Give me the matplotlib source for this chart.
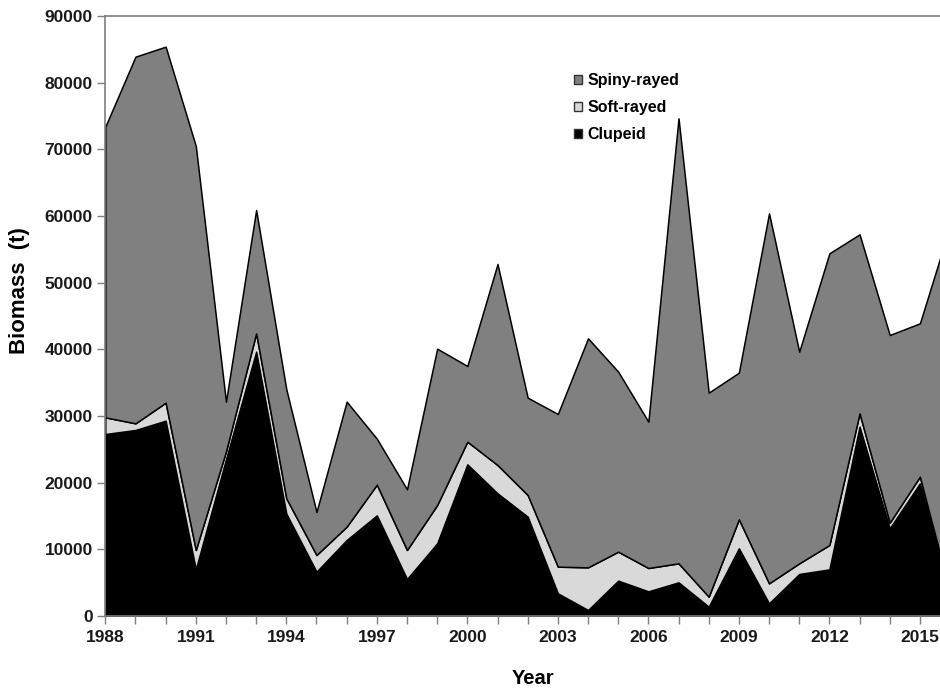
import numpy as np
import matplotlib
matplotlib.use("Agg")
import matplotlib.pyplot as plt
from matplotlib.patches import Patch
from matplotlib.ticker import MultipleLocator

plt.rcParams["font.family"] = ["Liberation Sans", "DejaVu Sans"]
plt.rcParams["font.weight"] = "bold"

years = list(range(1988, 2017))

clupeid = [27300, 27900, 29300, 7000, 23500, 39650, 15350, 6650, 11400, 15100,
           5550, 10900, 22750, 18400, 14900, 3400, 900, 5300, 3700, 5050,
           1400, 10150, 1900, 6300, 7000, 28400, 13150, 19900, 3000]

soft_rayed = [2500, 1000, 2700, 2900, 1200, 2750, 2300, 2500, 2000, 4600,
              4350, 5750, 3400, 4250, 3250, 4000, 6400, 4350, 3500, 2850,
              1500, 4350, 3000, 1600, 3650, 2000, 850, 1000, 600]

spiny_rayed = [43600, 55000, 53400, 60600, 7450, 18500, 16350, 6450, 18750, 6900,
               9100, 23450, 11350, 30150, 14600, 22900, 34350, 27000, 21950, 66750,
               30600, 22000, 55500, 31750, 43750, 26850, 28150, 23000, 54900]

year_ticks = years[::3]

labels = ["Clupeid", "Soft-rayed", "Spiny-rayed"]
colors = ["#000000", "#d9d9d9", "#808080"]

fig = plt.figure(figsize=(9.4, 6.9), dpi=100)
ax = fig.add_axes([105.3 / 940, 74 / 690, (940 - 105.3) / 940, 600 / 690])

ax.stackplot(years, clupeid, soft_rayed, spiny_rayed,
             colors=colors, edgecolor="black", linewidth=1.1)

ax.set_xlim(1988, 1988 + (940 - 105.3) / 30.17)
ax.set_ylim(0, 90000)

ax.set_xticks(year_ticks)
ax.xaxis.set_minor_locator(MultipleLocator(1))
ax.yaxis.set_major_locator(MultipleLocator(10000))

for side in ["left", "top", "bottom"]:
    ax.spines[side].set_color("#7f7f7f")
    ax.spines[side].set_linewidth(1.2)
ax.spines["right"].set_visible(False)

ax.tick_params(axis="both", which="both", direction="out", color="#7f7f7f",
               width=1, labelsize=12.5, labelcolor="#1a1a1a")
ax.tick_params(axis="x", which="major", length=6, pad=4)
ax.tick_params(axis="x", which="minor", length=6)
ax.tick_params(axis="y", length=6, pad=3)

ax.set_xlabel("Year", fontsize=14.5, fontweight="bold")
ax.set_ylabel("Biomass  (t)", fontsize=16, fontweight="bold")
ax.xaxis.set_label_coords(0.512, -0.088)
ax.yaxis.set_label_coords(-0.090, 0.543)

handles = [Patch(facecolor=c, edgecolor="#333333", linewidth=1) for c in colors]
leg = ax.legend(handles[::-1], labels[::-1], loc="upper left",
                bbox_to_anchor=((566 - 105.3) / (940 - 105.3), (616 - 65) / 600),
                frameon=False, fontsize=11.5, handlelength=0.5, handleheight=0.5,
                handletextpad=0.35, labelspacing=0.75, borderpad=0)

fig.savefig("out.png", dpi=100)
